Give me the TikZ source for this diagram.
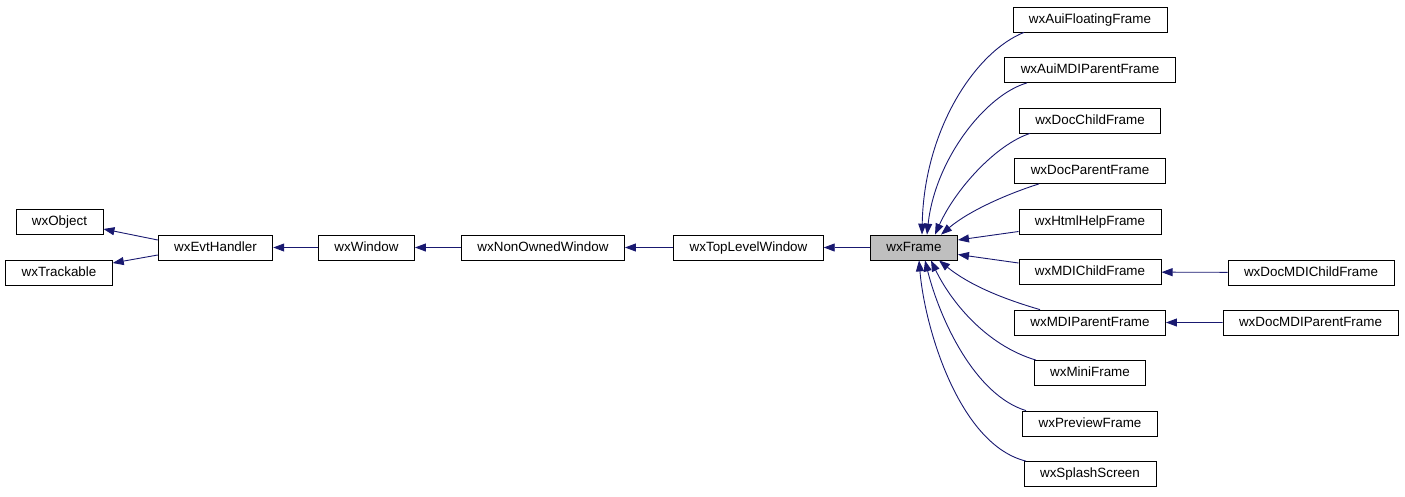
\documentclass[tikz,border=0pt]{standalone}
\usepackage{fontspec}
\usepackage{xcolor}
\usepackage{tikz}
\usetikzlibrary{arrows.meta,positioning}
\setmainfont{Liberation Sans}
\definecolor{linkblue}{RGB}{25, 25, 112}
\definecolor{basegray}{RGB}{191, 191, 191}
\tikzset{
 classbox/.style={
 rectangle,
 draw=black,
 fill=white,
 line width=0.8pt,
 minimum height=25pt,
 inner xsep=16pt,
 inner ysep=2pt,
 text height=9.5pt,
 text depth=2.5pt,
 font=\fontsize{13.4}{15}\selectfont
 },
 focusbox/.style={
 classbox,
 fill=basegray
 },
 inherit/.style={-{Triangle[length=11pt, width=8pt]}, line width=0.9pt, draw=linkblue}
}

\begin{document}
\begin{tikzpicture}[x=1pt, y=1pt, node distance=24.7pt and 48pt]
	\useasboundingbox (0,0) rectangle (1405,-496);
	\node[classbox] (obj) at (59.5,-222) {wxObject};
	\node[classbox] (track) at (59,-272.5) {wxTrackable};
	\node[classbox] (evt) at (215.5,-247.5) {wxEvtHandler};
	\node[classbox] (win) at (366.5,-247.5) {wxWindow};
	\node[classbox] (now) at (543,-247.5) {wxNonOwnedWindow};
	\node[classbox] (tlw) at (748.5,-247.5) {wxTopLevelWindow};
	\node[focusbox] (frame) at (914,-247.5) {wxFrame};

	\node[classbox] (auifloat) at (1090,-19.5) {wxAuiFloatingFrame};
	\node[classbox, below=of auifloat] (auimdi) {wxAuiMDIParentFrame};
	\node[classbox, below=of auimdi] (docchild) {wxDocChildFrame};
	\node[classbox, below=of docchild] (docparent) {wxDocParentFrame};
	\node[classbox, below=of docparent] (html) {wxHtmlHelpFrame};
	\node[classbox, below=of html] (mdichild) {wxMDIChildFrame};
	\node[classbox, below=of mdichild] (mdiparent) {wxMDIParentFrame};
	\node[classbox, below=of mdiparent] (mini) {wxMiniFrame};
	\node[classbox, below=of mini] (preview) {wxPreviewFrame};
	\node[classbox, below=of preview] (splash) {wxSplashScreen};

	\node[classbox] (docmdichild) at (1311,-272.5) {wxDocMDIChildFrame};
	\node[classbox] (docmdiparent) at (1310.5,-322.5) {wxDocMDIParentFrame};

	% base classes
	\draw[inherit] ([yshift=7.5pt]evt.west) -- ([yshift=-7pt]obj.east);
	\draw[inherit] ([yshift=-7.5pt]evt.west) -- ([yshift=9.5pt]track.east);
	\draw[inherit] (win) -- (evt);
	\draw[inherit] (now) -- (win);
	\draw[inherit] (tlw) -- (now);
	\draw[inherit] (frame) -- (tlw);

	% derived frames
	\draw[inherit] ([xshift=-66pt]auifloat.south) .. controls (975,-52) and (924,-130) .. ([xshift=8pt]frame.north);
	\draw[inherit] ([xshift=-63pt]auimdi.south) .. controls (985,-95) and (935,-160) .. ([xshift=13pt]frame.north);
	\draw[inherit] ([xshift=-60pt]docchild.south) .. controls (995,-145) and (955,-190) .. ([xshift=21pt]frame.north);
	\draw[inherit] ([xshift=-51pt]docparent.south) .. controls (1010,-193) and (970,-210) .. ([xshift=27pt]frame.north);
	\draw[inherit] ([yshift=-10pt]html.west) -- ([yshift=7.5pt]frame.east);
	\draw[inherit] ([yshift=9pt]mdichild.west) -- ([yshift=-7pt]frame.east);
	\draw[inherit] ([xshift=-50pt]mdiparent.north) .. controls (1000,-298) and (968,-284) .. ([xshift=25pt]frame.south);
	\draw[inherit] ([xshift=-54pt]mini.north) .. controls (985,-345) and (950,-300) .. ([xshift=17pt]frame.south);
	\draw[inherit] ([xshift=-64pt]preview.north) .. controls (975,-395) and (940,-320) .. ([xshift=11pt]frame.south);
	\draw[inherit] ([xshift=-64pt]splash.north) .. controls (960,-445) and (925,-330) .. ([xshift=5pt]frame.south);

	\draw[inherit] (docmdichild) -- (mdichild);
	\draw[inherit] (docmdiparent) -- (mdiparent);
\end{tikzpicture}
\end{document}
